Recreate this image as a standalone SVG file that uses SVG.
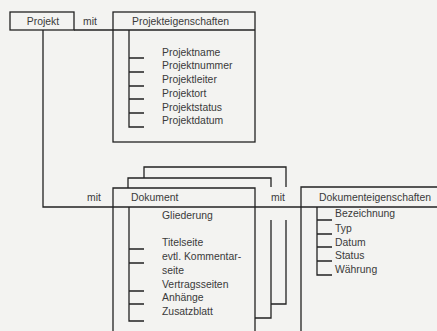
<svg xmlns="http://www.w3.org/2000/svg" width="437" height="331" viewBox="0 0 437 331">
<style>
.ln{fill:none;stroke:#222;stroke-width:1.3}
.t{font-family:"Liberation Sans",Arial,sans-serif;font-size:10.4px;fill:#3a3a3a}
.c{text-anchor:middle}
</style>
<rect width="437" height="331" fill="#f3f3f1"/>
<g id="connectors">
<path class="ln" d="M74,30 H113"/>
<path class="ln" d="M43,30 V207 H113"/>
<path class="ln" d="M255,207 H301"/>
<text class="t c" x="90" y="25">mit</text>
<text class="t c" x="94" y="201">mit</text>
<text class="t c" x="278" y="201">mit</text>
</g>
<g id="projekt">
<rect class="ln" x="10" y="12" width="64" height="18"/>
<text class="t c" x="43" y="25">Projekt</text>
</g>
<g id="projekteigenschaften">
<rect class="ln" x="113" y="12" width="142" height="130"/>
<path class="ln" d="M113,30 H255"/>
<path class="ln" d="M129,30 V127 H144 M129,58 H144 M129,72 H144 M129,86 H144 M129,99 H144 M129,113 H144"/>
<text class="t" x="132" y="25">Projekteigenschaften</text>
<text class="t" x="162" y="56">Projektname</text>
<text class="t" x="162" y="69">Projektnummer</text>
<text class="t" x="162" y="83">Projektleiter</text>
<text class="t" x="162" y="97">Projektort</text>
<text class="t" x="162" y="111">Projektstatus</text>
<text class="t" x="162" y="124">Projektdatum</text>
</g>
<g id="dokument">
<path class="ln" d="M144,178 V167 H286 V187 M286,220 V304 H271"/>
<path class="ln" d="M128,188 V178 H271 V187 M271,220 V318 H255"/>
<path class="ln" d="M113,335 V188 H255 V335"/>
<path class="ln" d="M113,207 H255"/>
<path class="ln" d="M129,207 V321 H144 M129,249 H144 M129,263 H144 M129,291 H144 M129,304 H144"/>
<text class="t" x="131" y="201">Dokument</text>
<text class="t" x="162" y="219">Gliederung</text>
<text class="t" x="162" y="246">Titelseite</text>
<text class="t" x="162" y="260">evtl. Kommentar-</text>
<text class="t" x="162" y="274">seite</text>
<text class="t" x="162" y="288">Vertragsseiten</text>
<text class="t" x="162" y="301">Anhänge</text>
<text class="t" x="162" y="315">Zusatzblatt</text>
</g>
<g id="dokumenteigenschaften">
<path class="ln" d="M301,335 V187 H440"/>
<path class="ln" d="M301,207 H440"/>
<path class="ln" d="M317,207 V275 H332 M317,220 H332 M317,234 H332 M317,247 H332 M317,261 H332"/>
<text class="t" x="319" y="201">Dokumenteigenschaften</text>
<text class="t" x="335" y="217">Bezeichnung</text>
<text class="t" x="335" y="232">Typ</text>
<text class="t" x="335" y="246">Datum</text>
<text class="t" x="335" y="259">Status</text>
<text class="t" x="335" y="273">Währung</text>
</g>
</svg>
